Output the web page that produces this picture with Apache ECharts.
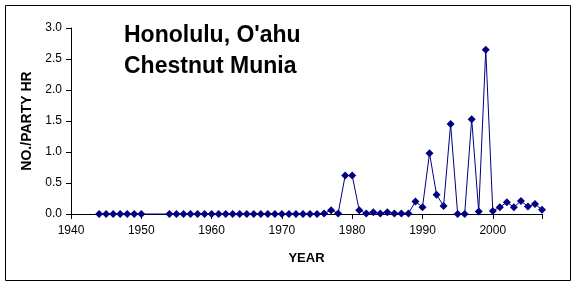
<!DOCTYPE html>
<html>
<head>
<meta charset="utf-8">
<script src="https://cdn.jsdelivr.net/npm/echarts@6/dist/echarts.min.js"></script>
<style>
html,body{margin:0;padding:0;background:#fff;}
#c{width:576px;height:286px;}
</style>
</head>
<body>
<div id="c"></div>
<script>
const years = [1944,1945,1946,1947,1948,1949,1950,
  1954,1955,1956,1957,1958,1959,1960,1961,1962,1963,1964,1965,1966,1967,1968,1969,1970,1971,1972,1973,1974,1975,1976,
  1977,1978,1979,1980,1981,1982,1983,1984,1985,1986,1987,1988,1989,1990,1991,1992,1993,1994,1995,1996,1997,1998,1999,
  2000,2001,2002,2003,2004,2005,2006,2007];
const values = [0,0,0,0,0,0,0,
  0,0,0,0,0,0,0,0,0,0,0,0,0,0,0,0,0,0,0,0,0,0,0.01,
  0.06,0.01,0.62,0.62,0.06,0.01,0.03,0.01,0.03,0.01,0.01,0.01,0.20,0.11,0.98,0.31,0.13,1.45,0,0,1.53,0.04,2.65,
  0.05,0.11,0.19,0.11,0.21,0.12,0.16,0.07];
const titleLines = ["Honolulu, O'ahu", "Chestnut Munia"];
const xName = "YEAR";
const yName = "NO./PARTY HR";

const chart = echarts.init(document.getElementById('c'), null, {renderer:'canvas'});
chart.setOption({
  backgroundColor:'#fff',
  animation:false,
  graphic:[
    {type:'rect', shape:{x:5.5,y:5.5,width:565,height:275}, style:{fill:'none',stroke:'#000',lineWidth:1}},
    {type:'text', left:124, top:20, style:{text:titleLines.join('\n'), font:'bold 23px Arial, "Liberation Sans", sans-serif', fill:'#000', lineHeight:31}}
  ],
  grid:{left:71, right:34, top:28, bottom:72, containLabel:false},
  xAxis:{
    type:'value', min:1940, max:2007, interval:10,
    name:xName, nameLocation:'middle', nameGap:38,
    nameTextStyle:{fontFamily:'Arial, "Liberation Sans", sans-serif', fontWeight:'bold', fontSize:13, color:'#000'},
    axisLine:{lineStyle:{color:'#000',width:1}},
    axisTick:{show:true, length:5, lineStyle:{color:'#000'}},
    axisLabel:{color:'#000', fontFamily:'Arial, "Liberation Sans", sans-serif', fontSize:12, margin:11,
      formatter:function(v){return v%10===0 && v<=2000 ? String(v) : '';}},
    splitLine:{show:false}
  },
  yAxis:{
    type:'value', min:0, max:3, interval:0.5,
    name:yName, nameLocation:'middle', nameGap:35, nameRotate:90,
    nameTextStyle:{fontFamily:'Arial, "Liberation Sans", sans-serif', fontWeight:'bold', fontSize:14, color:'#000'},
    axisLine:{show:true, lineStyle:{color:'#000',width:1}},
    axisTick:{show:true, length:5, lineStyle:{color:'#000'}},
    axisLabel:{color:'#000', fontFamily:'Arial, "Liberation Sans", sans-serif', fontSize:12, margin:9,
      formatter:function(v){return v.toFixed(1);}},
    splitLine:{show:false}
  },
  series:[{
    type:'line',
    data:years.map((y,i)=>[y,values[i]]),
    symbol:'diamond', symbolSize:8,
    lineStyle:{color:'#000080', width:1},
    itemStyle:{color:'#000080'},
    clip:false
  }]
});
</script>
</body>
</html>
